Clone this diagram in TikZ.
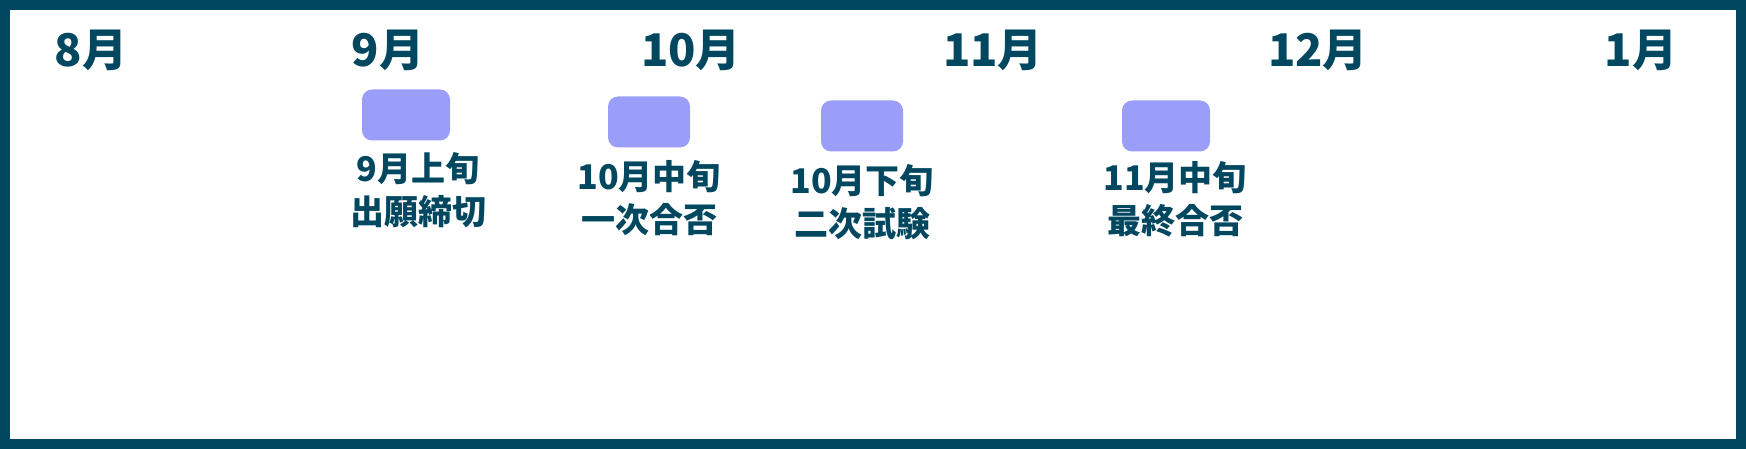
\documentclass[tikz,border=0pt]{standalone}
\usepackage{fontspec}
\newfontfamily\cjk{Noto Sans CJK JP}
\definecolor{frame}{HTML}{00475F}
\definecolor{boxc}{HTML}{9A9EF9}
\begin{document}
\begin{tikzpicture}[x=1pt,y=-1pt,
  month/.style={font=\cjk\bfseries\fontsize{45}{52}\selectfont, text=frame, inner sep=0pt},
  evbox/.style={fill=boxc, rounded corners=10pt, minimum width=84pt, minimum height=51pt, inner sep=0pt},
  evlabel/.style={font=\cjk\bfseries\fontsize{34}{43}\selectfont, text=frame, align=center, inner sep=0pt}]
\useasboundingbox (0,0) rectangle (1746,449);
\draw[frame, line width=10pt] (5,5) rectangle (1741,444);
\node[month] (m8) at (91,50) {8月};
\node[month] (m9) at (388,50) {9月};
\node[month] (m10) at (691,50) {10月};
\node[month] (m11) at (993,50) {11月};
\node[month] (m12) at (1318,50) {12月};
\node[month] (m1) at (1641,50) {1月};
\node[evbox, minimum width=88pt] (b1) at (406,115) {};
\node[evbox, minimum width=82pt] (b2) at (649,122) {};
\node[evbox, minimum width=82pt] (b3) at (862,126) {};
\node[evbox, minimum width=88pt] (b4) at (1166,126) {};
\node[evlabel] (l1) at (418,190) {9月上旬\\出願締切};
\node[evlabel] (l2) at (649,198) {10月中旬\\一次合否};
\node[evlabel] (l3) at (862,202) {10月下旬\\二次試験};
\node[evlabel] (l4) at (1175,199) {11月中旬\\最終合否};
\end{tikzpicture}
\end{document}
